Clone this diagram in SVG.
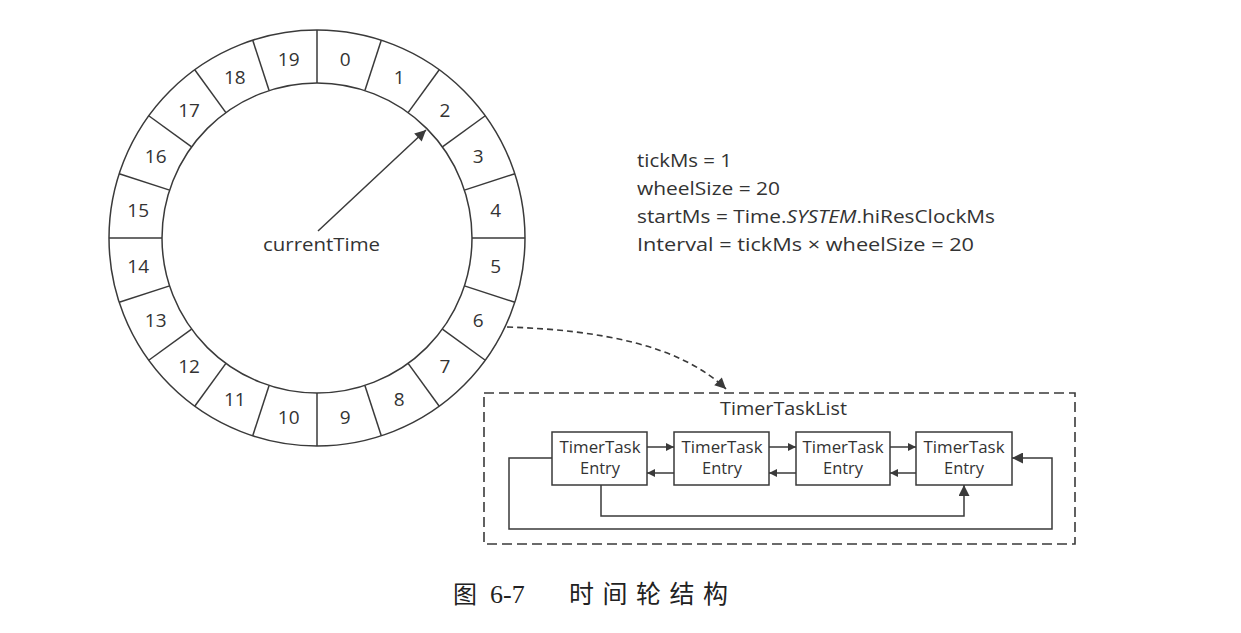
<svg xmlns="http://www.w3.org/2000/svg" xmlns:xlink="http://www.w3.org/1999/xlink" width="1241" height="633" viewBox="0 0 1241 633">
<style>
.ln{fill:none;stroke:#3a3a3a;stroke-width:1.5}
.dash{fill:none;stroke:#3a3a3a;stroke-width:1.6;stroke-dasharray:10 5}
.t{font-family:"Open Sans","Noto Sans",sans-serif;fill:#333}
.num{font-family:"Open Sans","Noto Sans",sans-serif;font-size:19px;fill:#333;text-anchor:middle;dominant-baseline:central}
.box{fill:#fff;stroke:#3a3a3a;stroke-width:1.5}
.bt{font-family:"Open Sans","Noto Sans",sans-serif;font-size:16px;fill:#333;text-anchor:middle}
</style>
<defs>
<marker id="ah" viewBox="0 0 10 10" refX="10" refY="5" markerWidth="10" markerHeight="8" markerUnits="userSpaceOnUse" orient="auto">
<path d="M0,0 L10,5 L0,10 Z" fill="#3a3a3a"/>
</marker>
<marker id="ah2" viewBox="0 0 10 10" refX="10" refY="5" markerWidth="14" markerHeight="11" markerUnits="userSpaceOnUse" orient="auto">
<path d="M0,0 L10,5 L0,10 Z" fill="#3a3a3a"/>
</marker>
<line id="div" x1="317" y1="83" x2="317" y2="30" class="ln"/>
</defs>
<rect width="1241" height="633" fill="#fff"/>

<g id="wheel">
<circle cx="317" cy="238" r="208" class="ln"/>
<circle cx="317" cy="238" r="155" class="ln"/>
<use xlink:href="#div"/>
<use xlink:href="#div" transform="rotate(18 317 238)"/>
<use xlink:href="#div" transform="rotate(36 317 238)"/>
<use xlink:href="#div" transform="rotate(54 317 238)"/>
<use xlink:href="#div" transform="rotate(72 317 238)"/>
<use xlink:href="#div" transform="rotate(90 317 238)"/>
<use xlink:href="#div" transform="rotate(108 317 238)"/>
<use xlink:href="#div" transform="rotate(126 317 238)"/>
<use xlink:href="#div" transform="rotate(144 317 238)"/>
<use xlink:href="#div" transform="rotate(162 317 238)"/>
<use xlink:href="#div" transform="rotate(180 317 238)"/>
<use xlink:href="#div" transform="rotate(198 317 238)"/>
<use xlink:href="#div" transform="rotate(216 317 238)"/>
<use xlink:href="#div" transform="rotate(234 317 238)"/>
<use xlink:href="#div" transform="rotate(252 317 238)"/>
<use xlink:href="#div" transform="rotate(270 317 238)"/>
<use xlink:href="#div" transform="rotate(288 317 238)"/>
<use xlink:href="#div" transform="rotate(306 317 238)"/>
<use xlink:href="#div" transform="rotate(324 317 238)"/>
<use xlink:href="#div" transform="rotate(342 317 238)"/>
<text class="num" x="345.3" y="59.2">0</text>
<text class="num" x="399.2" y="76.7">1</text>
<text class="num" x="445.0" y="110.0">2</text>
<text class="num" x="478.3" y="155.8">3</text>
<text class="num" x="495.8" y="209.7">4</text>
<text class="num" x="495.8" y="266.3">5</text>
<text class="num" x="478.3" y="320.2">6</text>
<text class="num" x="445.0" y="366.0">7</text>
<text class="num" x="399.2" y="399.3">8</text>
<text class="num" x="345.3" y="416.8">9</text>
<text class="num" x="288.7" y="416.8">10</text>
<text class="num" x="234.8" y="399.3">11</text>
<text class="num" x="189.0" y="366.0">12</text>
<text class="num" x="155.7" y="320.2">13</text>
<text class="num" x="138.2" y="266.3">14</text>
<text class="num" x="138.2" y="209.7">15</text>
<text class="num" x="155.7" y="155.8">16</text>
<text class="num" x="189.0" y="110.0">17</text>
<text class="num" x="234.8" y="76.7">18</text>
<text class="num" x="288.7" y="59.2">19</text>
<text class="t" x="321.5" y="251" font-size="19" text-anchor="middle" textLength="117" lengthAdjust="spacingAndGlyphs">currentTime</text>
</g>

<g id="params">
<text class="t" x="637" y="167" font-size="18" textLength="95" lengthAdjust="spacingAndGlyphs">tickMs = 1</text>
<text class="t" x="637" y="195" font-size="18" textLength="143" lengthAdjust="spacingAndGlyphs">wheelSize = 20</text>
<text class="t" x="637" y="223" font-size="18" textLength="358" lengthAdjust="spacingAndGlyphs">startMs = Time.<tspan font-style="italic">SYSTEM</tspan>.hiResClockMs</text>
<text class="t" x="637" y="251" font-size="18" textLength="337" lengthAdjust="spacingAndGlyphs">Interval = tickMs  ×  wheelSize = 20</text>
</g>

<g id="timerTaskList">
<rect x="484" y="393" width="591" height="151" class="dash"/>
<text class="t" x="783.5" y="415" font-size="19" text-anchor="middle" textLength="127" lengthAdjust="spacingAndGlyphs">TimerTaskList</text>
</g>

<g id="entry1">
<rect x="552" y="432" width="95" height="53" class="box"/>
<text class="bt" x="600" y="453" textLength="81" lengthAdjust="spacingAndGlyphs">TimerTask</text>
<text class="bt" x="600" y="474" textLength="40" lengthAdjust="spacingAndGlyphs">Entry</text>
</g>
<g id="entry2">
<rect x="674" y="432" width="95" height="53" class="box"/>
<text class="bt" x="722" y="453" textLength="81" lengthAdjust="spacingAndGlyphs">TimerTask</text>
<text class="bt" x="722" y="474" textLength="40" lengthAdjust="spacingAndGlyphs">Entry</text>
</g>
<g id="entry3">
<rect x="796" y="432" width="94" height="53" class="box"/>
<text class="bt" x="843" y="453" textLength="81" lengthAdjust="spacingAndGlyphs">TimerTask</text>
<text class="bt" x="843" y="474" textLength="40" lengthAdjust="spacingAndGlyphs">Entry</text>
</g>
<g id="entry4">
<rect x="916" y="432" width="96" height="53" class="box"/>
<text class="bt" x="964" y="453" textLength="81" lengthAdjust="spacingAndGlyphs">TimerTask</text>
<text class="bt" x="964" y="474" textLength="40" lengthAdjust="spacingAndGlyphs">Entry</text>
</g>

<g id="connectors">
<line x1="318" y1="231" x2="426" y2="130" class="ln" marker-end="url(#ah2)"/>
<path d="M507,327 C600,330 680,345 726,389" fill="none" stroke="#3a3a3a" stroke-width="1.6" stroke-dasharray="6 4" marker-end="url(#ah2)"/>
<line x1="647" y1="447" x2="674" y2="447" class="ln" marker-end="url(#ah)"/>
<line x1="769" y1="447" x2="796" y2="447" class="ln" marker-end="url(#ah)"/>
<line x1="890" y1="447" x2="916" y2="447" class="ln" marker-end="url(#ah)"/>
<line x1="674" y1="473" x2="647" y2="473" class="ln" marker-end="url(#ah)"/>
<line x1="796" y1="473" x2="769" y2="473" class="ln" marker-end="url(#ah)"/>
<line x1="916" y1="473" x2="890" y2="473" class="ln" marker-end="url(#ah)"/>
<path d="M601,485 V516 H964 V485" class="ln" marker-end="url(#ah2)"/>
<path d="M552,458 H509 V529 H1052 V458 H1012" class="ln" marker-end="url(#ah2)"/>
</g>

<g id="caption">
<text x="453" y="603" font-family="'Noto Sans CJK SC',sans-serif" font-size="24" fill="#222">图</text>
<text x="490" y="603" font-family="'Liberation Serif',serif" font-size="26" fill="#222">6-7</text>
<text x="569" y="603" font-family="'Noto Sans CJK SC',sans-serif" font-size="25" letter-spacing="8.5" fill="#222">时间轮结构</text>
</g>
</svg>
